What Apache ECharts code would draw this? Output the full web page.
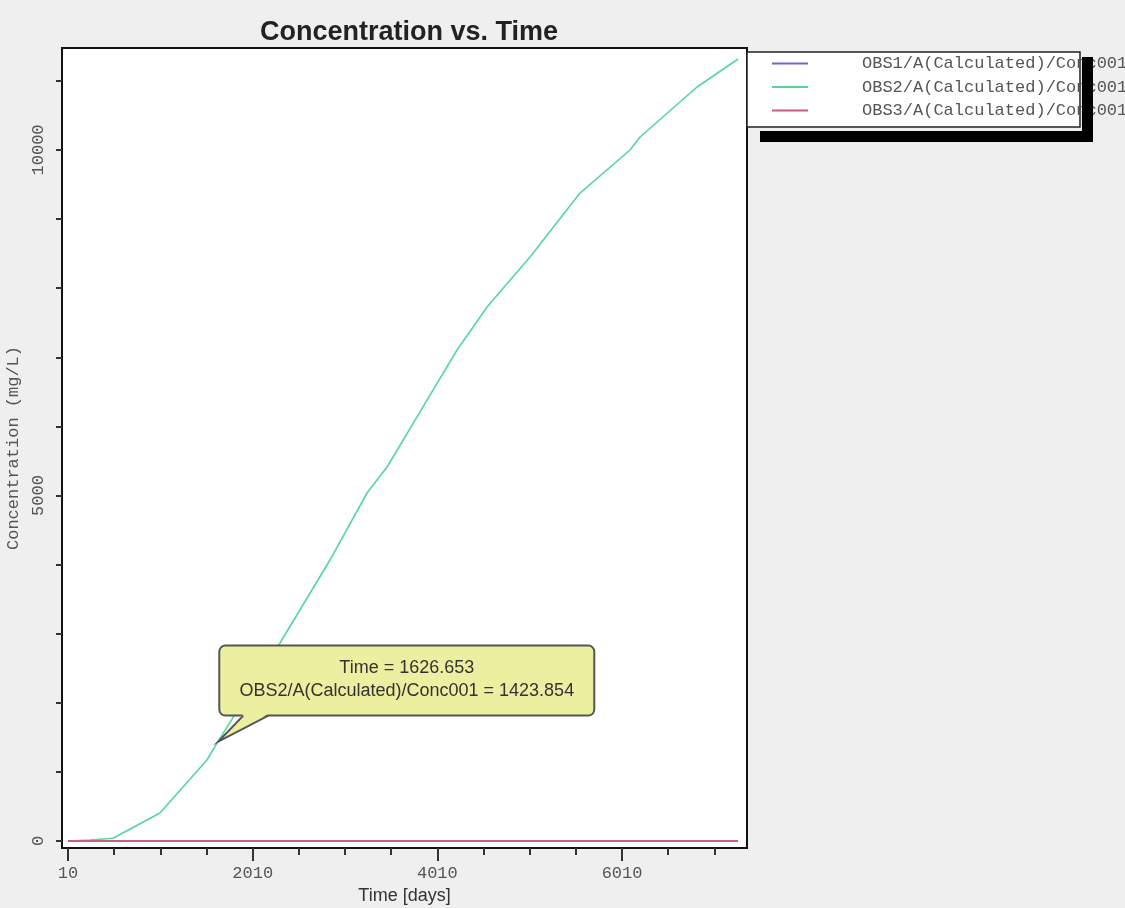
<!DOCTYPE html>
<html>
<head>
<meta charset="UTF-8">
<title>Concentration vs. Time</title>
<script src="https://cdn.jsdelivr.net/npm/echarts@6/dist/echarts.min.js"></script>
<style>
html, body { margin: 0; padding: 0; background: #efefef; }
#main { width: 1125px; height: 908px; }
</style>
</head>
<body>
<div id="main"></div>
<script>
// data
var seriesNames = ['OBS1/A(Calculated)/Conc001', 'OBS2/A(Calculated)/Conc001', 'OBS3/A(Calculated)/Conc001'];
var times = [10, 248, 497, 1006, 1515, 1626.653, 2306, 2847, 3248, 3465, 3898, 4223, 4548, 5013, 5555, 6096, 6205, 6822, 7266];
var obs1 = [0, 0, 0, 0, 0, 0, 0, 0, 0, 0, 0, 0, 0, 0, 0, 0, 0, 0, 0];
var obs2 = [0, 15, 40, 405, 1172, 1423.854, 2865, 4066, 5036, 5412, 6381, 7105, 7727, 8450, 9376, 9999, 10187, 10911, 11316];
var obs3 = [0, 0, 0, 0, 0, 0, 0, 0, 0, 0, 0, 0, 0, 0, 0, 0, 0, 0, 0];
var xLabelTicks = [10, 2010, 4010, 6010];
var xMinorTicks = [10, 510, 1010, 1510, 2010, 2510, 3010, 3510, 4010, 4510, 5010, 5510, 6010, 6510, 7010];
var yTicks = [0, 1000, 2000, 3000, 4000, 5000, 6000, 7000, 8000, 9000, 10000, 11000];
var yLabelTicks = [0, 5000, 10000];
var tipIndex = 5; // the point the callout points at

var colors = ['#6b6bd0', '#55d69c', '#c4607a'];
var mono = '"Liberation Mono", "DejaVu Sans Mono", monospace';
var sans = '"Liberation Sans", Arial, sans-serif';

function pairs(vals) {
	return times.map(function(t, i) { return [t, vals[i]]; });
}

var chart = echarts.init(document.getElementById('main'));
var option = {
	animation: false,
	backgroundColor: '#efefef',
	color: colors,
	title: {
		text: 'Concentration vs. Time',
		left: 404,
		textAlign: 'center',
		top: 14,
		textStyle: { fontFamily: sans, fontSize: 27, fontWeight: 'bold', color: '#222' }
	},
	legend: {
		orient: 'vertical',
		left: 767,
		top: 50,
		z: 5,
		itemWidth: 36,
		itemHeight: 2,
		itemGap: 6.5,
		icon: 'rect',
		data: seriesNames,
		textStyle: { fontFamily: mono, fontSize: 17, color: '#555', lineHeight: 17, padding: [0, 0, 0, 49] }
	},
	grid: {
		left: 62, right: 378, top: 48, bottom: 60,
		outerBoundsMode: 'none',
		show: true, backgroundColor: '#fff', borderColor: '#111', borderWidth: 2
	},
	xAxis: [{
		type: 'value', position: 'bottom', min: -55, max: 7363,
		name: 'Time [days]', nameLocation: 'middle', nameGap: 35,
		nameTextStyle: { fontFamily: sans, fontSize: 18, color: '#333' },
		axisLine: { show: false, onZero: false },
		splitLine: { show: false },
		axisTick: { show: true, length: 13, customValues: xLabelTicks, lineStyle: { color: '#333', width: 2 } },
		axisLabel: { customValues: xLabelTicks, margin: 17, fontFamily: mono, fontSize: 17, color: '#555',
			formatter: function(v) { return String(v); } }
	}, {
		type: 'value', position: 'bottom', min: -55, max: 7363,
		axisLine: { show: false, onZero: false },
		splitLine: { show: false },
		axisTick: { show: true, length: 7, customValues: xMinorTicks, lineStyle: { color: '#333', width: 2 } },
		axisLabel: { show: false }
	}],
	yAxis: {
		type: 'value', min: -101, max: 11475,
		name: 'Concentration (mg/L)', nameLocation: 'middle', nameGap: 32,
		nameTextStyle: { fontFamily: mono, fontSize: 17, color: '#555' },
		axisLine: { show: false, onZero: false },
		splitLine: { show: false },
		axisTick: { show: true, length: 6, customValues: yTicks, lineStyle: { color: '#333', width: 2 } },
		axisLabel: { customValues: yLabelTicks, rotate: 90, margin: 15, fontFamily: mono, fontSize: 17, color: '#555',
			formatter: function(v) { return String(v); } }
	},
	series: [
		{ name: seriesNames[0], type: 'line', data: pairs(obs1), showSymbol: false, lineStyle: { width: 2 } },
		{ name: seriesNames[1], type: 'line', data: pairs(obs2), showSymbol: false, lineStyle: { width: 1.6 } },
		{ name: seriesNames[2], type: 'line', data: pairs(obs3), showSymbol: false, lineStyle: { width: 2 } }
	]
};
chart.setOption(option);

// legend frame with its heavy shadow, and the callout at the picked point
function drawExtras() {
	var p = chart.convertToPixel({ xAxisIndex: 0, yAxisIndex: 0 }, [times[tipIndex], obs2[tipIndex]]);
	var x = p[0] + 2, y = p[1];
	var boxTop = y - 97, boxH = 70, boxW = 375;
	var fill = '#ecef9f', edge = '#555';
	chart.setOption({
		graphic: [
			{ type: 'rect', z: 1, shape: { x: 747, y: 52, width: 333, height: 75 },
				style: { fill: '#fff', stroke: '#222', lineWidth: 1.5 } },
			{ type: 'rect', z: 10, shape: { x: 760, y: 131, width: 333, height: 11 }, style: { fill: '#000' } },
			{ type: 'rect', z: 10, shape: { x: 1082, y: 57, width: 11, height: 85 }, style: { fill: '#000' } },
			{ type: 'rect', z: 20, shape: { x: x, y: boxTop, width: boxW, height: boxH, r: 6 },
				style: { fill: fill, stroke: edge, lineWidth: 2 } },
			{ type: 'polygon', z: 21, shape: { points: [[x + 24, boxTop + boxH - 1.5], [x + 49, boxTop + boxH - 1.5], [x - 1, y - 1]] },
				style: { fill: fill } },
			{ type: 'polyline', z: 22, shape: { points: [[x + 24, boxTop + boxH], [x - 1, y - 1], [x + 49, boxTop + boxH]] },
				style: { stroke: edge, lineWidth: 2, fill: null } },
			{ type: 'text', z: 23, x: x + boxW / 2, y: boxTop + 22,
				style: { text: 'Time = ' + times[tipIndex].toFixed(3), fill: '#333', font: '18px ' + sans, align: 'center', verticalAlign: 'middle' } },
			{ type: 'text', z: 23, x: x + boxW / 2, y: boxTop + 45,
				style: { text: seriesNames[1] + ' = ' + obs2[tipIndex].toFixed(3), fill: '#333', font: '18px ' + sans, align: 'center', verticalAlign: 'middle' } }
		]
	});
}
drawExtras();
</script>
</body>
</html>
